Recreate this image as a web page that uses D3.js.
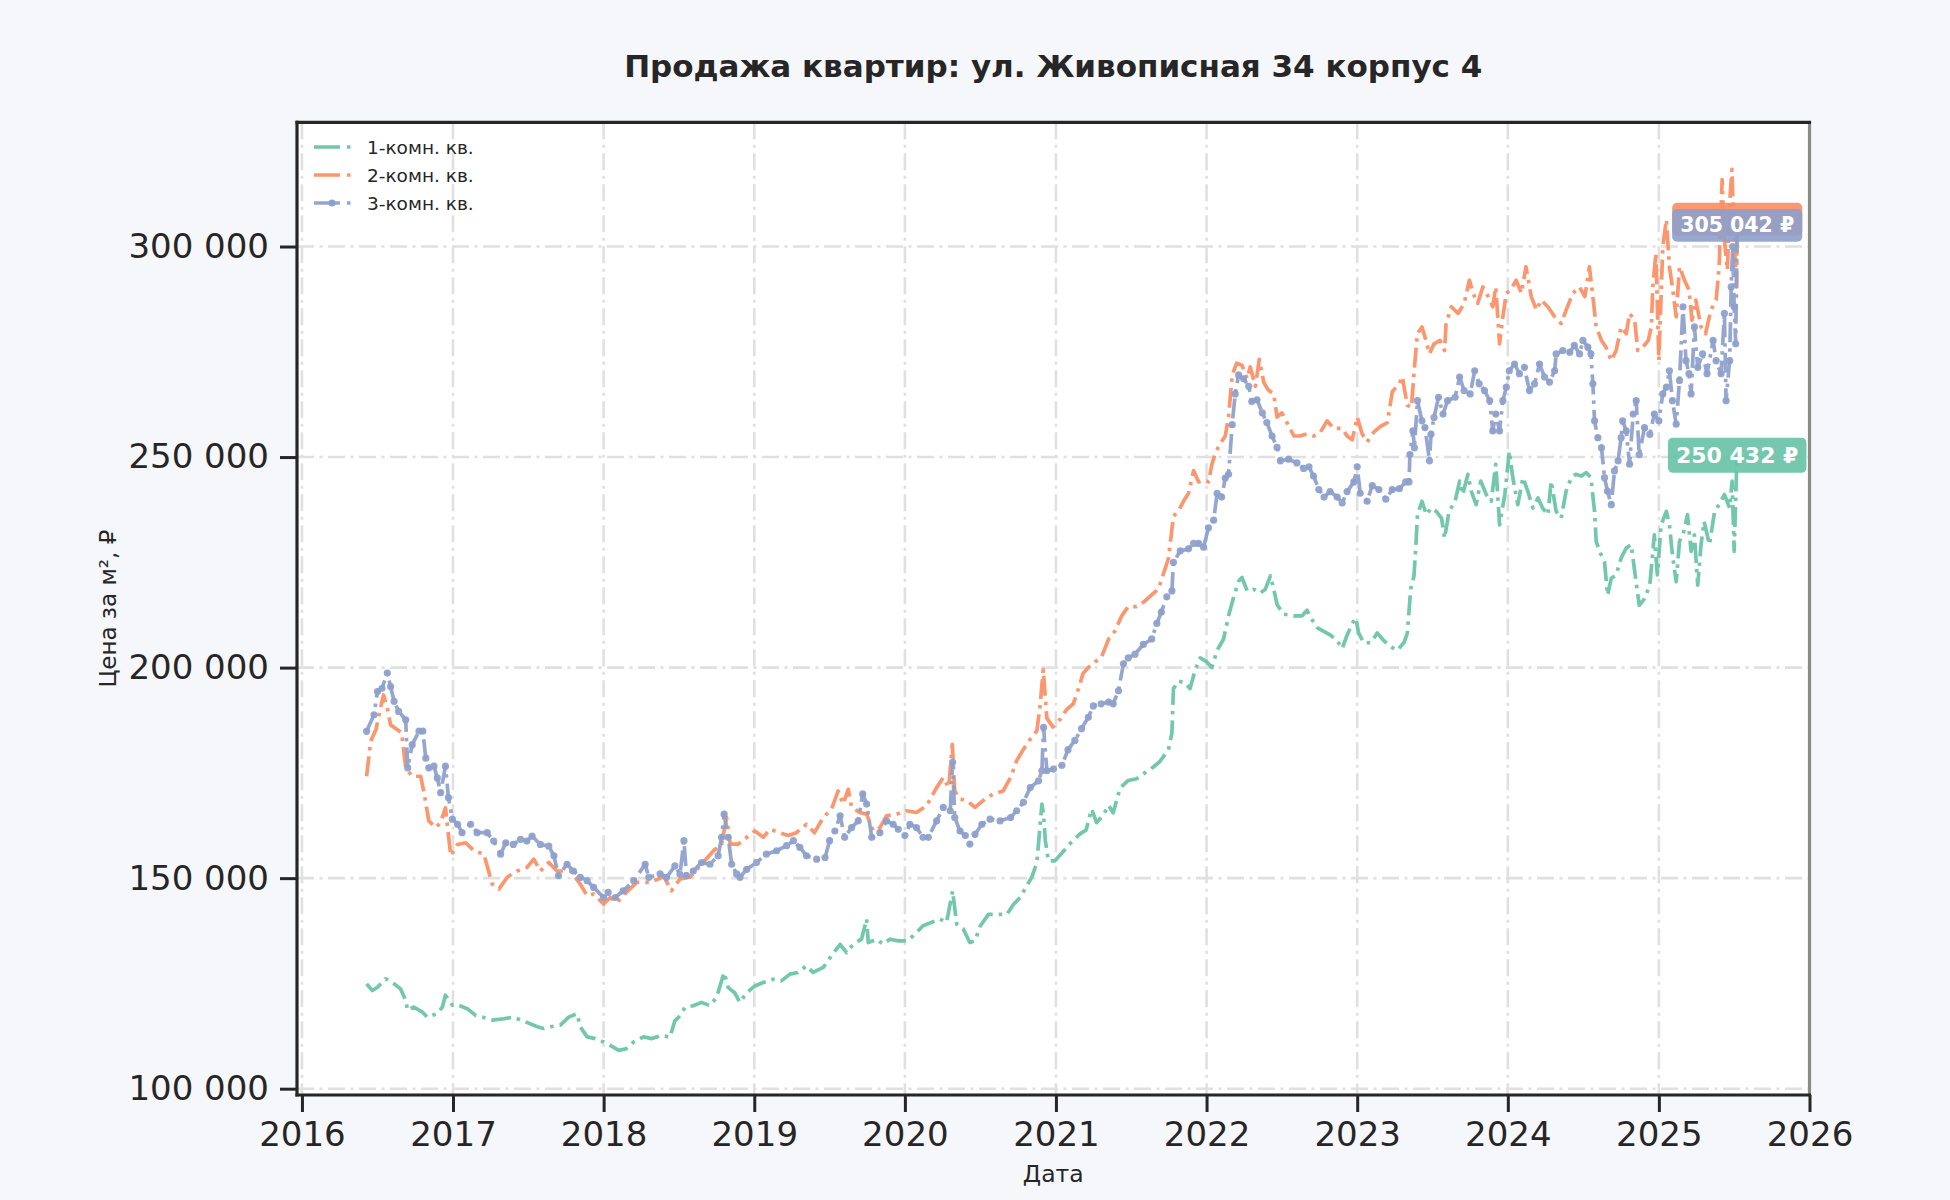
<!DOCTYPE html>
<html>
<head>
<meta charset="utf-8">
<script src="https://cdn.jsdelivr.net/npm/d3@7"></script>
<style>
html,body{margin:0;padding:0;background:#f6f7fb;}
svg{display:block;font-family:"DejaVu Sans",sans-serif;}
</style>
</head>
<body>
<svg id="chart" width="1950" height="1200"></svg>
<script>
// ---------------- DATA ----------------
const title = "Продажа квартир: ул. Живописная 34 корпус 4";
const xLabel = "Дата";
const yLabel = "Цена за м², ₽";
const seriesNames = ["1-комн. кв.", "2-комн. кв.", "3-комн. кв."];
const yTicks = [100000, 150000, 200000, 250000, 300000];
const xLimits = ["2015-12-20", "2026-01-01"];
const yLimits = [98500, 329500];

// [decimal year, price per m²]
const room1 = [
[2016.428,124900],[2016.466,123300],[2016.50,124100],[2016.554,126100],[2016.61,124900],[2016.653,123700],
[2016.687,121000],[2016.70,118600],[2016.74,119400],[2016.797,118200],[2016.83,117000],[2016.896,117800],
[2016.93,119400],[2016.95,122200],[2016.996,119800],[2017.04,119800],[2017.095,119000],[2017.15,117400],
[2017.194,117000],[2017.26,116300],[2017.338,116600],[2017.40,117000],[2017.48,115900],[2017.56,114700],
[2017.60,114300],[2017.647,114700],[2017.713,115100],[2017.768,117000],[2017.823,117800],[2017.845,114700],
[2017.89,112300],[2017.945,111900],[2018.0,111100],[2018.044,110300],[2018.1,109100],[2018.15,109500],
[2018.2,111100],[2018.265,112300],[2018.32,111900],[2018.386,112700],[2018.44,112200],[2018.473,116100],
[2018.507,117300],[2018.54,119300],[2018.595,119700],[2018.65,120500],[2018.706,119700],[2018.75,121700],
[2018.80,127600],[2018.827,124000],[2018.87,122800],[2018.905,120500],[2018.95,122800],[2019.004,124400],
[2019.06,125200],[2019.126,126000],[2019.18,125600],[2019.237,127200],[2019.29,127600],[2019.347,129200],
[2019.39,127600],[2019.458,128800],[2019.513,131600],[2019.57,134300],[2019.613,132300],[2019.657,134300],
[2019.712,135500],[2019.746,140300],[2019.757,134700],[2019.812,135500],[2019.856,134300],[2019.90,135500],
[2019.956,135100],[2020.01,135100],[2020.055,136300],[2020.12,138700],[2020.177,139500],[2020.23,140300],
[2020.276,139500],[2020.316,147000],[2020.343,139100],[2020.387,137900],[2020.43,134700],[2020.464,135100],
[2020.50,138700],[2020.553,141400],[2020.608,141400],[2020.675,141400],[2020.72,143800],[2020.763,145400],
[2020.807,148200],[2020.84,150200],[2020.874,153700],[2020.907,167600],[2020.918,165200],[2020.93,158900],
[2020.95,154100],[2020.993,154100],[2021.05,156400],[2021.104,158600],[2021.16,160500],[2021.2,161400],
[2021.237,166400],[2021.27,163200],[2021.315,165000],[2021.35,167300],[2021.38,165500],[2021.426,171400],
[2021.48,173200],[2021.536,173600],[2021.59,175000],[2021.647,176400],[2021.69,177700],[2021.747,180500],
[2021.77,184500],[2021.78,195000],[2021.814,196800],[2021.858,196400],[2021.89,195000],[2021.925,199500],
[2021.958,202300],[2022.0,201400],[2022.035,200000],[2022.07,204100],[2022.113,206800],[2022.146,212300],
[2022.18,216800],[2022.213,220500],[2022.235,221400],[2022.27,218200],[2022.313,218600],[2022.357,217700],
[2022.39,218600],[2022.424,221800],[2022.446,218600],[2022.468,215000],[2022.51,212700],[2022.58,212300],
[2022.634,212300],[2022.667,213600],[2022.70,211400],[2022.734,209500],[2022.778,208600],[2022.823,207700],
[2022.867,206400],[2022.90,204500],[2022.933,207700],[2022.967,210500],[2022.99,211800],[2023.01,208200],
[2023.044,205900],[2023.09,205900],[2023.133,208200],[2023.177,206400],[2023.22,205000],[2023.266,204100],
[2023.31,205900],[2023.333,208200],[2023.355,218600],[2023.377,221800],[2023.39,229200],[2023.40,236300],
[2023.43,239500],[2023.46,236300],[2023.49,237900],[2023.525,237100],[2023.56,235500],[2023.58,230700],
[2023.61,237100],[2023.65,239500],[2023.68,244300],[2023.70,241100],[2023.735,245900],[2023.757,241900],
[2023.79,238700],[2023.82,244300],[2023.857,241100],[2023.89,239500],[2023.92,248300],[2023.945,233900],
[2023.98,241100],[2024.01,251400],[2024.033,245100],[2024.066,238700],[2024.10,245100],[2024.132,241900],
[2024.166,237900],[2024.2,240300],[2024.23,237900],[2024.265,236300],[2024.287,244300],[2024.32,237100],
[2024.353,235500],[2024.386,241900],[2024.42,245100],[2024.45,245900],[2024.486,245500],[2024.52,246300],
[2024.55,245100],[2024.574,237100],[2024.585,230000],[2024.607,227600],[2024.64,225200],[2024.66,217200],
[2024.685,221200],[2024.717,222000],[2024.75,226000],[2024.784,228400],[2024.817,229200],[2024.84,222800],
[2024.87,214800],[2024.905,216400],[2024.94,219600],[2024.97,231500],[2024.99,222000],[2025.015,233900],
[2025.05,237100],[2025.07,233900],[2025.09,226800],[2025.115,220400],[2025.137,230000],[2025.16,231500],
[2025.19,236300],[2025.214,227600],[2025.236,231500],[2025.258,219600],[2025.28,229200],[2025.30,234700],
[2025.336,229200],[2025.37,237100],[2025.40,238700],[2025.435,241100],[2025.47,237900],[2025.486,244300],
[2025.50,227600],[2025.516,247500],[2025.52,250432]
];

const room2 = [
[2016.428,174200],[2016.455,182500],[2016.49,185300],[2016.52,190400],[2016.54,193500],[2016.565,190400],
[2016.587,186400],[2016.63,185300],[2016.66,184500],[2016.687,176200],[2016.73,174200],[2016.786,174200],
[2016.81,169900],[2016.84,163600],[2016.885,162000],[2016.918,163200],[2016.95,166700],[2016.985,155300],
[2017.03,158000],[2017.084,158400],[2017.14,156500],[2017.205,155700],[2017.26,148600],[2017.305,147400],
[2017.36,150200],[2017.426,151700],[2017.49,152500],[2017.536,154500],[2017.58,151700],[2017.636,153700],
[2017.69,151700],[2017.78,151700],[2017.845,148600],[2017.89,145800],[2017.934,146200],[2018.0,143900],
[2018.044,145400],[2018.088,144200],[2018.15,146600],[2018.22,149000],[2018.31,149000],[2018.40,150400],
[2018.45,147000],[2018.507,149800],[2018.573,150200],[2018.66,153700],[2018.73,156500],[2018.783,158100],
[2018.816,164400],[2018.84,158100],[2018.894,158100],[2018.95,159700],[2019.004,161200],[2019.06,159700],
[2019.104,161600],[2019.17,160800],[2019.225,160100],[2019.28,160800],[2019.347,162800],[2019.40,160800],
[2019.458,164400],[2019.513,166400],[2019.557,170700],[2019.59,167600],[2019.624,171100],[2019.646,166800],
[2019.70,165600],[2019.746,165200],[2019.79,161200],[2019.834,162000],[2019.878,164800],[2019.945,165200],
[2020.01,166000],[2020.077,165600],[2020.144,167200],[2020.21,171500],[2020.254,173900],[2020.29,171500],
[2020.314,181800],[2020.33,170700],[2020.365,168800],[2020.41,168400],[2020.464,166800],[2020.53,168800],
[2020.586,170000],[2020.65,170700],[2020.70,173900],[2020.74,177900],[2020.785,180600],[2020.83,183000],
[2020.874,185000],[2020.896,191300],[2020.916,199500],[2020.94,188000],[2020.98,185900],[2021.027,187700],
[2021.07,190000],[2021.115,191400],[2021.15,195000],[2021.18,198600],[2021.215,200000],[2021.26,201400],
[2021.30,202300],[2021.35,206800],[2021.39,208600],[2021.437,212300],[2021.48,214500],[2021.536,214500],
[2021.58,215500],[2021.636,217300],[2021.68,218600],[2021.714,222300],[2021.747,225900],[2021.78,235900],
[2021.814,237300],[2021.847,239500],[2021.88,241400],[2021.914,246800],[2021.947,244100],[2021.98,244500],
[2022.013,244100],[2022.035,248200],[2022.058,250900],[2022.09,253200],[2022.124,255000],[2022.146,259500],
[2022.17,269500],[2022.20,272300],[2022.235,271800],[2022.27,268600],[2022.29,271400],[2022.324,266800],
[2022.35,273200],[2022.38,267700],[2022.41,265900],[2022.446,265000],[2022.468,259500],[2022.50,260500],
[2022.534,258200],[2022.58,255000],[2022.62,255000],[2022.667,255500],[2022.71,255000],[2022.756,255900],
[2022.80,258600],[2022.845,256800],[2022.90,256800],[2022.933,255000],[2022.967,254100],[2023.0,259500],
[2023.033,255500],[2023.066,253600],[2023.11,255900],[2023.155,257300],[2023.20,258200],[2023.233,265500],
[2023.28,267500],[2023.30,269100],[2023.315,265800],[2023.333,262300],[2023.36,261800],[2023.38,271300],
[2023.40,279300],[2023.43,280900],[2023.45,278500],[2023.48,274500],[2023.51,276900],[2023.55,277700],
[2023.58,275300],[2023.59,281700],[2023.625,285700],[2023.67,284100],[2023.71,286500],[2023.745,292000],
[2023.77,288900],[2023.80,286500],[2023.834,290400],[2023.87,288100],[2023.90,285700],[2023.92,290400],
[2023.945,276900],[2023.967,283300],[2023.99,288900],[2024.02,289700],[2024.055,292000],[2024.09,288900],
[2024.12,295200],[2024.155,288100],[2024.19,284900],[2024.22,287300],[2024.265,285700],[2024.31,283300],
[2024.353,281700],[2024.386,284900],[2024.43,288900],[2024.475,290400],[2024.51,288100],[2024.54,295200],
[2024.563,288100],[2024.585,280900],[2024.62,277700],[2024.65,276100],[2024.685,272900],[2024.717,275300],
[2024.75,280900],[2024.784,279300],[2024.806,284100],[2024.84,282500],[2024.86,275300],[2024.894,276100],
[2024.93,277700],[2024.95,280900],[2024.96,290400],[2024.98,298400],[2025.0,272900],[2025.026,300000],
[2025.05,306400],[2025.07,295200],[2025.09,290400],[2025.115,283300],[2025.137,295200],[2025.17,292000],
[2025.20,289700],[2025.22,282500],[2025.245,287300],[2025.28,280900],[2025.31,279300],[2025.345,284900],
[2025.38,287300],[2025.40,295200],[2025.42,315900],[2025.435,301600],[2025.455,294400],[2025.47,310300],
[2025.485,318300],[2025.50,300800],[2025.516,290400],[2025.52,306481]
];

const room3 = [
[2016.428,184860],[2016.477,188800],[2016.50,194300],[2016.53,195100],[2016.565,198700],[2016.587,195500],
[2016.61,192000],[2016.64,189600],[2016.687,187600],[2016.70,176200],[2016.73,181700],[2016.775,184900],
[2016.80,184900],[2016.82,178500],[2016.84,176200],[2016.874,176600],[2016.896,173800],[2016.918,170300],
[2016.95,176600],[2016.97,169100],[2016.996,164000],[2017.03,162800],[2017.06,160800],[2017.117,162800],
[2017.16,160800],[2017.227,160800],[2017.27,158800],[2017.316,155700],[2017.35,158400],[2017.40,158000],
[2017.448,159200],[2017.49,158800],[2017.525,160000],[2017.58,158000],[2017.636,157600],[2017.67,155300],
[2017.70,150600],[2017.757,153300],[2017.80,151700],[2017.845,150200],[2017.89,149400],[2017.934,147800],
[2018.0,145400],[2018.03,146600],[2018.077,145400],[2018.13,147000],[2018.2,149400],[2018.276,153300],
[2018.3,150200],[2018.375,151000],[2018.418,150200],[2018.473,152900],[2018.507,150900],[2018.533,158900],
[2018.55,150600],[2018.595,151700],[2018.65,153700],[2018.706,153300],[2018.76,155300],[2018.783,159700],
[2018.80,165200],[2018.827,159700],[2018.85,153300],[2018.883,151000],[2018.905,150200],[2018.95,152100],
[2019.015,153700],[2019.08,155700],[2019.148,156500],[2019.215,157700],[2019.26,158900],[2019.303,157300],
[2019.347,155300],[2019.414,154500],[2019.47,154900],[2019.50,158900],[2019.535,161200],[2019.57,164800],
[2019.60,159700],[2019.646,162000],[2019.69,163600],[2019.72,170000],[2019.746,167600],[2019.78,159700],
[2019.834,160800],[2019.878,163600],[2019.922,162800],[2019.956,161600],[2020.0,160100],[2020.033,162800],
[2020.077,162000],[2020.12,159700],[2020.155,159700],[2020.21,163600],[2020.254,166800],[2020.30,166000],
[2020.316,177500],[2020.33,164400],[2020.365,161200],[2020.40,160100],[2020.43,158100],[2020.464,160400],
[2020.51,162800],[2020.564,164000],[2020.63,163600],[2020.70,164400],[2020.74,166000],[2020.785,168000],
[2020.83,171500],[2020.885,173100],[2020.907,175500],[2020.918,185800],[2020.94,175500],[2020.984,175900],
[2021.04,176800],[2021.08,180500],[2021.126,182700],[2021.17,185500],[2021.215,188200],[2021.248,190900],
[2021.30,191400],[2021.35,191800],[2021.38,191400],[2021.415,194500],[2021.448,200900],[2021.48,202300],
[2021.525,203200],[2021.58,205500],[2021.636,206800],[2021.67,210500],[2021.70,213200],[2021.736,216800],
[2021.77,218200],[2021.78,225000],[2021.825,227700],[2021.88,228200],[2021.914,229500],[2021.947,229500],
[2021.98,228600],[2022.013,233200],[2022.047,235000],[2022.07,241400],[2022.10,240500],[2022.124,245000],
[2022.146,245900],[2022.17,257700],[2022.19,265000],[2022.213,269500],[2022.246,268600],[2022.28,266800],
[2022.30,263200],[2022.335,263600],[2022.37,260500],[2022.40,258200],[2022.435,255000],[2022.468,252300],
[2022.49,249100],[2022.545,249500],[2022.60,248600],[2022.645,247300],[2022.68,247700],[2022.71,245500],
[2022.745,242300],[2022.78,240500],[2022.82,241800],[2022.867,240500],[2022.90,239100],[2022.933,241800],
[2022.978,244100],[2023.0,247700],[2023.02,241400],[2023.066,239500],[2023.10,243200],[2023.144,242300],
[2023.19,240000],[2023.233,242300],[2023.28,242500],[2023.322,244100],[2023.344,244100],[2023.35,250600],
[2023.37,256200],[2023.38,252200],[2023.40,263400],[2023.43,258600],[2023.45,257000],[2023.48,249100],
[2023.49,255400],[2023.51,259400],[2023.54,264200],[2023.57,260200],[2023.60,263400],[2023.65,264200],
[2023.68,269000],[2023.71,265800],[2023.75,265000],[2023.78,270500],[2023.81,267400],[2023.845,265800],
[2023.88,263400],[2023.90,256200],[2023.92,260200],[2023.945,256200],[2023.967,263400],[2023.99,266600],
[2024.01,270500],[2024.044,272100],[2024.077,269800],[2024.11,271300],[2024.143,265800],[2024.177,267400],
[2024.21,272100],[2024.243,269000],[2024.276,267800],[2024.31,270500],[2024.32,274500],[2024.364,275300],
[2024.41,274900],[2024.44,276500],[2024.475,274500],[2024.497,277700],[2024.53,276100],[2024.55,274500],
[2024.563,267400],[2024.574,258600],[2024.596,254600],[2024.62,252200],[2024.64,245100],[2024.66,241900],
[2024.685,238700],[2024.706,246700],[2024.73,249100],[2024.75,254600],[2024.76,258600],[2024.784,256200],
[2024.806,248300],[2024.83,260200],[2024.85,263400],[2024.87,250600],[2024.905,257000],[2024.94,255400],
[2024.97,260200],[2025.0,258600],[2025.026,265000],[2025.05,266600],[2025.07,270500],[2025.09,263400],
[2025.115,257800],[2025.137,268200],[2025.16,285700],[2025.18,272900],[2025.20,269800],[2025.214,265000],
[2025.236,280900],[2025.258,271300],[2025.29,274500],[2025.32,269800],[2025.36,277700],[2025.38,272900],
[2025.413,269800],[2025.435,284100],[2025.446,263400],[2025.47,272900],[2025.48,290400],[2025.49,300000],
[2025.50,285700],[2025.51,276900],[2025.52,305042]
];

const seriesData = [room1, room2, room3];
const seriesColors = ["#66c2a5", "#fc8d62", "#8da0cb"];

// ---------------- LAYOUT ----------------
const W = 1950, H = 1200;
const M = {left: 297, right: 1809.5, top: 122.3, bottom: 1095};
const FONT = "'DejaVu Sans', sans-serif";
const INK = "#262626";

const svg = d3.select("#chart");
svg.append("rect").attr("width", W).attr("height", H).attr("fill", "#f6f7fb");
svg.append("rect").attr("x", M.left).attr("y", M.top)
  .attr("width", M.right - M.left).attr("height", M.bottom - M.top).attr("fill", "#ffffff");

function toDate(t) {
  const y = Math.floor(t);
  const s = Date.UTC(y, 0, 1), e = Date.UTC(y + 1, 0, 1);
  return new Date(s + (t - y) * (e - s));
}

const x = d3.scaleUtc().domain(xLimits.map(s => new Date(s + "T00:00:00Z"))).range([M.left, M.right]);
const y = d3.scaleLinear().domain(yLimits).range([M.bottom, M.top]);

const loc = d3.formatLocale({decimal: ",", thousands: " ", grouping: [3], currency: ["", ""]});
const fmt = loc.format(",.0f");

const xTickVals = d3.utcYear.range(new Date(Date.UTC(2016,0,1)), new Date(Date.UTC(2026,0,2)));

// Grid
const grid = svg.append("g").attr("stroke", "#e0e0e0").attr("stroke-width", 2.6)
  .attr("stroke-dasharray", "17,5.5,3,5.5").attr("fill", "none");
grid.selectAll("line.gx").data(xTickVals).join("line")
  .attr("x1", d => x(d)).attr("x2", d => x(d)).attr("y1", M.top).attr("y2", M.bottom);
grid.selectAll("line.gy").data(yTicks).join("line")
  .attr("y1", d => y(d)).attr("y2", d => y(d)).attr("x1", M.left).attr("x2", M.right);

// Lines
const LW = 3.7;
const line = d3.line().x(d => x(toDate(d[0]))).y(d => y(d[1]));
seriesData.forEach((data, i) => {
  svg.append("path").datum(data)
    .attr("d", line)
    .attr("fill", "none")
    .attr("stroke", seriesColors[i])
    .attr("stroke-opacity", 0.92)
    .attr("stroke-width", LW)
    .attr("stroke-linejoin", "round")
    .attr("stroke-dasharray", "20,6,3.5,6");
});
// markers for 3-room series
svg.append("g").selectAll("circle").data(room3).join("circle")
  .attr("cx", d => x(toDate(d[0]))).attr("cy", d => y(d[1]))
  .attr("r", 3.6).attr("fill", seriesColors[2]).attr("fill-opacity", 0.92);

// Axes
const xAxis = d3.axisBottom(x).tickValues(xTickVals).tickFormat(d3.utcFormat("%Y"))
  .tickSize(17).tickPadding(10);
const gx = svg.append("g").attr("transform", `translate(0,${M.bottom})`).call(xAxis);
const yAxis = d3.axisLeft(y).tickValues(yTicks).tickFormat(fmt).tickSize(17).tickPadding(11);
const gy = svg.append("g").attr("transform", `translate(${M.left},0)`).call(yAxis);
[gx, gy].forEach(g => {
  g.select(".domain").remove();
  g.selectAll(".tick line").attr("stroke", INK).attr("stroke-width", 3);
  g.selectAll(".tick text").attr("fill", INK).style("font-family", FONT).style("font-size", "34px");
});

// Spines
svg.append("line").attr("x1", M.right).attr("x2", M.right).attr("y1", M.top).attr("y2", M.bottom)
  .attr("stroke", "#8a8a8a").attr("stroke-width", 3.2);
svg.append("line").attr("x1", M.left).attr("x2", M.left).attr("y1", M.top - 1.5).attr("y2", M.bottom + 1.5)
  .attr("stroke", INK).attr("stroke-width", 3.2);
svg.append("line").attr("x1", M.left - 1.5).attr("x2", M.right + 1.6).attr("y1", M.bottom).attr("y2", M.bottom)
  .attr("stroke", INK).attr("stroke-width", 3.2);
svg.append("line").attr("x1", M.left - 1.5).attr("x2", M.right + 1.6).attr("y1", M.top).attr("y2", M.top)
  .attr("stroke", INK).attr("stroke-width", 3.2);

// Title & axis labels
svg.append("text").attr("x", (M.left + M.right) / 2).attr("y", 77)
  .attr("text-anchor", "middle").attr("fill", INK)
  .style("font-family", FONT).style("font-size", "31px").style("font-weight", "bold").text(title);
svg.append("text").attr("x", (M.left + M.right) / 2).attr("y", 1182)
  .attr("text-anchor", "middle").attr("fill", INK)
  .style("font-family", FONT).style("font-size", "23.5px").text(xLabel);
svg.append("text").attr("transform", `translate(108,${(M.top + M.bottom) / 2}) rotate(-90)`)
  .attr("text-anchor", "middle").attr("dominant-baseline", "central").attr("fill", INK)
  .style("font-family", FONT).style("font-size", "23px").text(yLabel);

// Legend
const leg = svg.append("g");
seriesNames.forEach((name, i) => {
  const cy = 147 + i * 28;
  leg.append("line").attr("x1", 314).attr("x2", 351).attr("y1", cy).attr("y2", cy)
    .attr("stroke", seriesColors[i]).attr("stroke-width", LW).attr("stroke-opacity", 0.92)
    .attr("stroke-dasharray", "26,7,3.5,20");
  if (i === 2) leg.append("circle").attr("cx", 332).attr("cy", cy).attr("r", 3.6).attr("fill", seriesColors[i]);
  leg.append("text").attr("x", 367).attr("y", cy).attr("dominant-baseline", "central")
    .attr("fill", INK).style("font-family", FONT).style("font-size", "18.5px").text(name);
});

// Last-value labels (the 2-room label box lies under the 3-room one, its text is hidden)
const labelFont = [22, 20.5, 20.5];
const showText = [true, false, true];
[0, 1, 2].forEach(i => {
  const last = seriesData[i][seriesData[i].length - 1];
  const cx = x(toDate(last[0])), cy = y(last[1]);
  const g = svg.append("g");
  const rect = g.append("rect").attr("fill", seriesColors[i]).attr("fill-opacity", 0.9).attr("rx", 5);
  const t = g.append("text").attr("x", cx).attr("y", cy)
    .attr("text-anchor", "middle").attr("dominant-baseline", "central")
    .attr("fill", "#ffffff").style("font-family", FONT).style("font-weight", "bold")
    .style("font-size", labelFont[i] + "px").text(fmt(last[1]) + " ₽");
  const bb = t.node().getBBox();
  const h = labelFont[i] * 1.6;
  rect.attr("x", bb.x - 8).attr("width", bb.width + 16).attr("y", cy - h / 2).attr("height", h);
  if (!showText[i]) t.remove();
});
</script>
</body>
</html>
